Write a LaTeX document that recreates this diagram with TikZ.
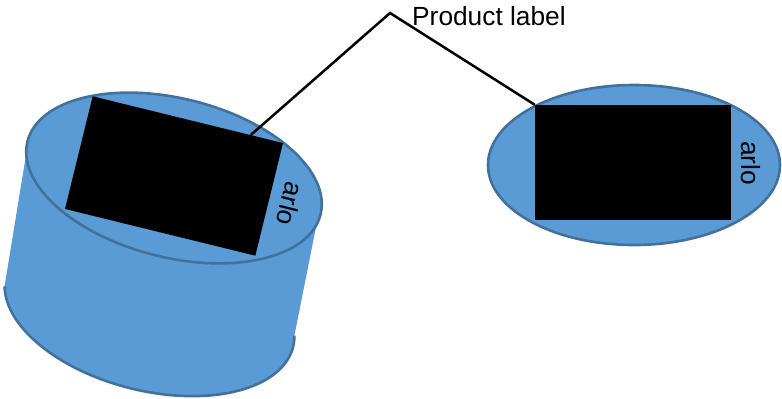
\documentclass[tikz,border=0pt]{standalone}
\usepackage{fontspec}
\setmainfont{Liberation Sans}
\usetikzlibrary{shapes.geometric,calc}
\definecolor{bluefill}{HTML}{5B9BD5}
\definecolor{blueline}{HTML}{41719C}
\tikzset{
  disc/.style={ellipse,draw=blueline,fill=bluefill,line width=2.6pt,inner sep=0pt,minimum width=302pt,minimum height=159pt},
  labelbox/.style={rectangle,fill=black,inner sep=0pt,minimum width=196pt,minimum height=116pt},
  leader/.style={line width=2.5pt,black},
  txt/.style={font=\fontsize{26.3}{30}\selectfont,inner sep=0pt,text=black}
}
\begin{document}
\begin{tikzpicture}[x=1pt,y=-1pt]
\useasboundingbox (0,0) rectangle (782,399);
% cylinder body
\fill[bluefill] (26,155) -- (4.6,286)
  -- plot[domain=172:-8,samples=80,shift={(149.5,311)},rotate=-14] ({148*cos(\x)},{79.6*sin(\x)})
  -- (316,227) -- cycle;
\draw[blueline,line width=2.6pt,shift={(149.5,311)},rotate=-14]
  plot[domain=172:-8,samples=80] ({148*cos(\x)},{79.6*sin(\x)});
% discs
\node[disc,rotate=-14] (topleft) at (174,178) {};
\node[disc,minimum width=292pt,minimum height=160pt] (topright) at (634,165) {};
% labels
\node[labelbox,rotate=-13.8] (rectleft) at (174,176) {};
\node[labelbox,minimum height=115pt] (rectright) at (633,162.5) {};
\node[txt,rotate=-104] (arloleft) at (290,204) {arlo};
\node[txt,rotate=-90] (arloright) at (751,163) {arlo};
\node[txt,anchor=west] (title) at (412,16) {Product label};
% leader
\coordinate (apex) at (390,13);
\draw[leader] ($(rectleft.north west)!0.83!(rectleft.north east)$) -- (apex) -- (rectright.north west);
\end{tikzpicture}
\end{document}
